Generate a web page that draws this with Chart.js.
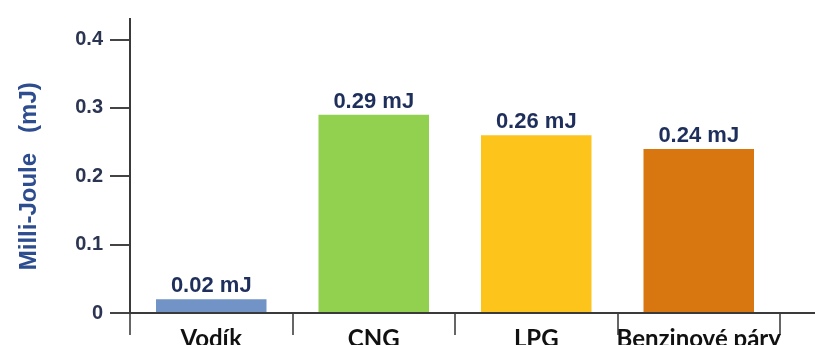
<!DOCTYPE html>
<html>
<head>
<meta charset="utf-8">
<script src="https://cdn.jsdelivr.net/npm/chart.js@4/dist/chart.umd.min.js"></script>
<style>
  html, body { margin: 0; padding: 0; background: #fff; overflow: hidden; }
  #wrap { width: 815px; height: 365px; position: relative; }
</style>
</head>
<body>
<div id="wrap"><canvas id="c"></canvas></div>
<script>
// Minimum ignition energy per fuel
const categories = ['Vodík', 'CNG', 'LPG', 'Benzinové páry'];
const energyMJ = [0.02, 0.29, 0.26, 0.24];
const barColors = ['#7293c6', '#92d050', '#fdc51c', '#d8760f'];
const yTicks = [0, 0.1, 0.2, 0.3, 0.4];
const yTitle = 'Milli-Joule   (mJ)';
const valueUnit = 'mJ';

// Value captions above each bar, e.g. "0.29 mJ"
const valueLabels = {
  id: 'valueLabels',
  afterDatasetsDraw(chart) {
    const ctx = chart.ctx;
    const meta = chart.getDatasetMeta(0);
    ctx.save();
    ctx.font = 'bold 22px "Liberation Sans", Arial, sans-serif';
    ctx.fillStyle = '#1f2f5c';
    ctx.textAlign = 'center';
    ctx.textBaseline = 'bottom';
    meta.data.forEach((bar, i) => {
      ctx.fillText(energyMJ[i].toFixed(2) + ' ' + valueUnit, bar.x, bar.y - 2);
    });
    ctx.restore();
  }
};

// Vertical axis title, centred on the labelled tick range
const axisTitle = {
  id: 'axisTitle',
  afterDraw(chart) {
    const ctx = chart.ctx;
    const y = chart.scales.y;
    const mid = (y.getPixelForValue(yTicks[0]) + y.getPixelForValue(yTicks[yTicks.length - 1])) / 2;
    ctx.save();
    ctx.translate(y.left + 29, mid);
    ctx.rotate(-Math.PI / 2);
    ctx.font = 'bold 24px "Liberation Sans", Arial, sans-serif';
    ctx.fillStyle = '#2e4d8f';
    ctx.textAlign = 'center';
    ctx.textBaseline = 'middle';
    ctx.fillText(yTitle, 0, 0);
    ctx.restore();
  }
};

// Continue the baseline to the right edge of the canvas
const axisRun = {
  id: 'axisRun',
  afterDraw(chart) {
    const { ctx, chartArea, width } = chart;
    const y = chart.scales.y.getPixelForValue(0);
    ctx.save();
    ctx.strokeStyle = '#3a3a3a';
    ctx.lineWidth = 2;
    ctx.beginPath();
    ctx.moveTo(chartArea.right - 1, y);
    ctx.lineTo(width, y);
    ctx.stroke();
    ctx.restore();
  }
};

new Chart(document.getElementById('c'), {
  type: 'bar',
  data: {
    labels: categories,
    datasets: [{
      data: energyMJ,
      backgroundColor: barColors,
      borderWidth: 0,
      barPercentage: 0.68,
      categoryPercentage: 1
    }]
  },
  options: {
    responsive: true,
    maintainAspectRatio: false,
    animation: false,
    layout: { padding: { left: 0, right: 35, top: 12, bottom: 0 } },
    plugins: { legend: { display: false }, tooltip: { enabled: false } },
    scales: {
      x: {
        afterFit(scale) { scale.height = 52; },
        grid: {
          offset: true,
          drawOnChartArea: false,
          drawTicks: true,
          tickLength: 22,
          color: '#666',
          lineWidth: 2
        },
        border: { display: true, color: '#3a3a3a', width: 2 },
        ticks: {
          autoSkip: false,
          maxRotation: 0,
          minRotation: 0,
          padding: -10,
          color: '#111',
          font: { family: 'Lato, "Open Sans", sans-serif', size: 24, weight: 'bold' }
        }
      },
      y: {
        min: 0,
        max: 0.43,
        afterFit(scale) { scale.width = 130; },
        afterBuildTicks(scale) { scale.ticks = yTicks.map(v => ({ value: v })); },
        grid: {
          drawOnChartArea: false,
          drawTicks: true,
          tickLength: 20,
          color: '#444',
          lineWidth: 2
        },
        border: { display: true, color: '#3a3a3a', width: 2 },
        ticks: {
          padding: 7,
          color: '#2b3552',
          font: { family: '"Liberation Sans", Arial, sans-serif', size: 20, weight: 'bold' },
          callback: (v) => (v === 0 ? '0' : v.toFixed(1))
        },
        title: { display: false }
      }
    }
  },
  plugins: [valueLabels, axisTitle, axisRun]
});
</script>
</body>
</html>
